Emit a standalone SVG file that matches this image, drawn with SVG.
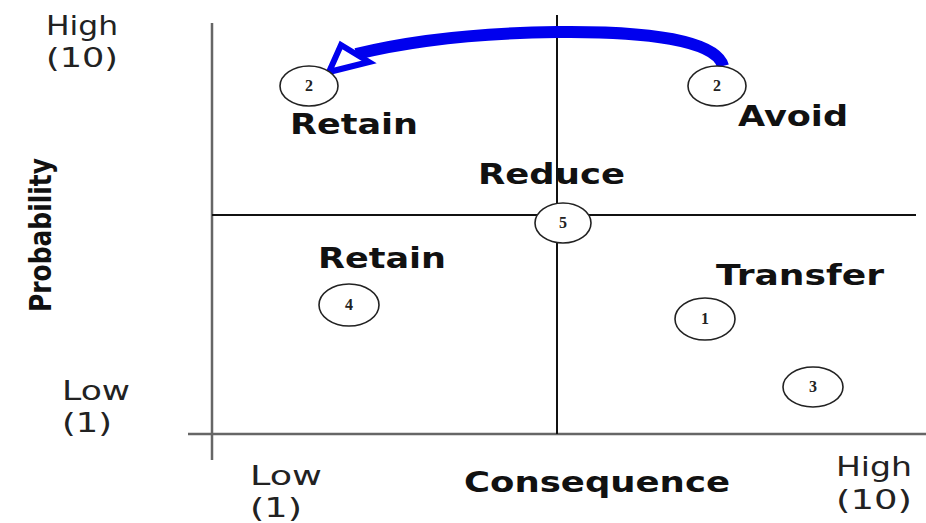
<svg xmlns="http://www.w3.org/2000/svg" width="926" height="523" viewBox="0 0 926 523">
<style>
.ax{stroke:#666;stroke-width:2.5;fill:none}
.q{stroke:#111;stroke-width:2;fill:none}
.c{fill:#fff;stroke:#222;stroke-width:1.6}
.n{font-family:"Liberation Serif",serif;font-weight:bold;font-size:16px;text-anchor:middle;fill:#222}
.b{font-family:"DejaVu Sans",sans-serif;font-weight:bold;font-size:28px;fill:#111}
.l{font-family:"DejaVu Sans",sans-serif;font-size:26px;fill:#222}
</style>
<rect width="926" height="523" fill="#fff"/>
<g id="axes">
<line class="ax" x1="212" y1="23" x2="212" y2="460"/>
<line class="ax" x1="188" y1="434" x2="926" y2="434"/>
<line class="q" x1="212" y1="215" x2="916" y2="215"/>
<line class="q" x1="557" y1="15" x2="557" y2="434"/>
</g>
<g id="connectors">
<path d="M723,66 C716,40 645,31 557,32 C470,33 405,42 356,54" fill="none" stroke="#0000ee" stroke-width="12"/>
<polygon points="329,72 341,45 369,62" fill="#fff" stroke="#0000ee" stroke-width="6" stroke-linejoin="miter"/>
</g>
<g id="n2a"><ellipse class="c" cx="309" cy="86" rx="29" ry="20"/><text class="n" x="309" y="91">2</text></g>
<g id="n2b"><ellipse class="c" cx="717" cy="86" rx="29" ry="20"/><text class="n" x="717" y="91">2</text></g>
<g id="n5"><ellipse class="c" cx="563" cy="223" rx="28" ry="20"/><text class="n" x="563" y="228">5</text></g>
<g id="n4"><ellipse class="c" cx="349" cy="305" rx="30" ry="21"/><text class="n" x="349" y="310">4</text></g>
<g id="n1"><ellipse class="c" cx="705" cy="319" rx="30" ry="21"/><text class="n" x="705" y="324">1</text></g>
<g id="n3"><ellipse class="c" cx="813" cy="387" rx="30" ry="20"/><text class="n" x="813" y="392">3</text></g>
<g id="labels">
<text class="b" x="290" y="134" textLength="128" lengthAdjust="spacingAndGlyphs">Retain</text>
<text class="b" x="738" y="126" textLength="110" lengthAdjust="spacingAndGlyphs">Avoid</text>
<text class="b" x="478" y="184" textLength="147" lengthAdjust="spacingAndGlyphs">Reduce</text>
<text class="b" x="318" y="268" textLength="128" lengthAdjust="spacingAndGlyphs">Retain</text>
<text class="b" x="716" y="285" textLength="168" lengthAdjust="spacingAndGlyphs">Transfer</text>
<text class="b" x="464" y="492" textLength="266" lengthAdjust="spacingAndGlyphs">Consequence</text>
<text class="b" style="font-size:31px" transform="translate(51,312) rotate(-90)" textLength="154" lengthAdjust="spacingAndGlyphs">Probability</text>
<text class="l" x="46" y="35" textLength="72" lengthAdjust="spacingAndGlyphs">High</text>
<text class="l" x="46" y="67" textLength="72" lengthAdjust="spacingAndGlyphs">(10)</text>
<text class="l" x="62" y="400" textLength="68" lengthAdjust="spacingAndGlyphs">Low</text>
<text class="l" x="62" y="432" textLength="50" lengthAdjust="spacingAndGlyphs">(1)</text>
<text class="l" x="250" y="485" textLength="72" lengthAdjust="spacingAndGlyphs">Low</text>
<text class="l" x="250" y="517" textLength="52" lengthAdjust="spacingAndGlyphs">(1)</text>
<text class="l" x="836" y="476" textLength="76" lengthAdjust="spacingAndGlyphs">High</text>
<text class="l" x="836" y="509" textLength="76" lengthAdjust="spacingAndGlyphs">(10)</text>
</g>
</svg>
